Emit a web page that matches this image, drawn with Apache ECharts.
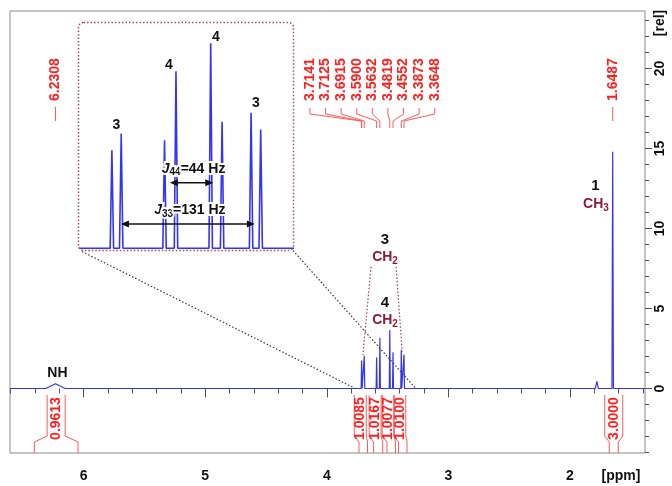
<!DOCTYPE html>
<html>
<head>
<meta charset="utf-8">
<title>1H NMR spectrum</title>
<script src="https://cdn.jsdelivr.net/npm/echarts@6.0.0/dist/echarts.min.js"></script>
<style>
  html, body { margin: 0; padding: 0; background: #ffffff; }
  #chart { width: 672px; height: 486px; }
</style>
</head>
<body>
<div id="chart"></div>
<script>
// ---- axes -----------------------------------------------------------------
const ppmRange = [1.383, 6.605];          // chemical shift window (drawn reversed)
const relRange = [-4.031, 23.594];        // relative intensity window
const ppmMajorTicks = [2, 3, 4, 5, 6];
const relMajorTicks = [0, 5, 10, 15, 20];
const ppmMinorTicks = [];
for (let k = 7; k <= 33; k++) ppmMinorTicks.push(k / 5);
const relMinorTicks = [];
for (let k = -4; k <= 23; k++) relMinorTicks.push(k);

// ---- resolved lines: shift (ppm), height (rel), half width at base (ppm) --
const peakPpm    = [6.2308, 3.7133, 3.6915, 3.5900, 3.5632, 3.4819, 3.4552, 3.3873, 3.3648, 1.7790, 1.6487, 1.4900];
const peakHeight = [0.30,   1.75,   2.05,   1.93,   3.16,   3.66,   2.26,   2.42,   2.12,   0.45,   14.8,   0.10];
const peakWidth  = [0.080,  0.004,  0.004,  0.004,  0.004,  0.004,  0.004,  0.004,  0.004,  0.012,  0.006,  0.005];

// ---- peak picking ---------------------------------------------------------
const pickedShifts = [6.2308, 3.7141, 3.7125, 3.6915, 3.5900, 3.5632, 3.4819, 3.4552, 3.3873, 3.3648, 1.6487];

// ---- integrals ------------------------------------------------------------
const integralFrom  = [6.405, 3.735, 3.615, 3.505, 3.410, 1.677];
const integralTo    = [6.046, 3.665, 3.540, 3.435, 3.340, 1.603];
const integralValue = [0.9613, 1.0085, 1.0167, 1.0077, 1.0100, 3.0000];

// ---- expansion of the CH2 multiplets --------------------------------------
const insetPpm = [3.2915, 3.788];
const insetRel = [-0.03, 4.02];
const couplingNames  = ['44', '33'];
const couplingValues = [44, 131];          // Hz
const couplingFrom   = [3.5775, 3.6923];   // arrow ends (ppm)
const couplingTo     = [3.4760, 3.3784];

// spectrum trace: baseline with one spike per resolved line
function buildTrace() {
  const order = peakPpm.map((_, i) => i).sort((a, b) => peakPpm[b] - peakPpm[a]);
  const pts = [[ppmRange[1], 0]];
  order.forEach(i => {
    pts.push([peakPpm[i] + peakWidth[i], 0]);
    pts.push([peakPpm[i], peakHeight[i]]);
    pts.push([peakPpm[i] - peakWidth[i], 0]);
  });
  pts.push([ppmRange[0], 0]);
  return pts;
}
const trace = buildTrace();

const FONT = '"Liberation Sans", Arial, Helvetica, sans-serif';
const BLUE = '#3434f4';
const RED = '#ff1f1f';
const RED_LINE = '#ff5a5a';
const DARK_RED = '#8e1b38';
const TICK = '#555555';

const chart = echarts.init(document.getElementById('chart'), null, { renderer: 'canvas' });

const labelFont = { fontSize: 14, fontWeight: 'bold', color: '#111', fontFamily: FONT };

chart.setOption({
  animation: false,
  backgroundColor: '#ffffff',
  grid: [
    { left: 10, top: 11, width: 635, height: 442, show: true, borderColor: '#8a8a8a', borderWidth: 1, backgroundColor: 'transparent' },
    { left: 80, top: 23, width: 212, height: 227, show: false }
  ],
  xAxis: [
    { gridIndex: 0, type: 'value', position: 'bottom', inverse: true, min: ppmRange[0], max: ppmRange[1],
      axisLine: { show: false }, splitLine: { show: false }, axisLabel: { show: false },
      axisTick: { show: true, length: 5, customValues: ppmMinorTicks, lineStyle: { color: TICK } } },
    { gridIndex: 0, type: 'value', position: 'bottom', inverse: true, min: ppmRange[0], max: ppmRange[1],
      axisLine: { show: false }, splitLine: { show: false },
      axisTick: { show: true, length: 9, customValues: ppmMajorTicks, lineStyle: { color: TICK } },
      axisLabel: Object.assign({ customValues: ppmMajorTicks, margin: 16 }, labelFont) },
    { gridIndex: 1, type: 'value', inverse: true, min: insetPpm[0], max: insetPpm[1], show: false }
  ],
  yAxis: [
    { gridIndex: 0, type: 'value', position: 'right', min: relRange[0], max: relRange[1],
      axisLine: { show: false }, splitLine: { show: false }, axisLabel: { show: false },
      axisTick: { show: true, length: 4, customValues: relMinorTicks, lineStyle: { color: TICK } } },
    { gridIndex: 0, type: 'value', position: 'right', min: relRange[0], max: relRange[1],
      axisLine: { show: false }, splitLine: { show: false },
      axisTick: { show: true, length: 7, customValues: relMajorTicks, lineStyle: { color: TICK } },
      axisLabel: Object.assign({ customValues: relMajorTicks, margin: 8, rotate: 90 }, labelFont) },
    { gridIndex: 1, type: 'value', min: insetRel[0], max: insetRel[1], show: false }
  ],
  series: [
    { type: 'line', xAxisIndex: 0, yAxisIndex: 0, data: trace, showSymbol: false, symbol: 'none',
      lineStyle: { color: BLUE, width: 1.2 }, silent: true, clip: true },
    { type: 'line', xAxisIndex: 2, yAxisIndex: 2, data: trace, showSymbol: false, symbol: 'none',
      lineStyle: { color: BLUE, width: 1.6 }, silent: true, clip: true }
  ]
});

// ---- annotations, peak labels, integrals ---------------------------------
const P = (x, y) => chart.convertToPixel({ gridIndex: 0 }, [x, y]);
const Q = (x, y) => chart.convertToPixel({ gridIndex: 1 }, [x, y]);
const plotBottom = P(ppmRange[0], relRange[0])[1];

const g = [];
const Z = 20;   // draw annotations above the spectrum trace
const font = (size, style) => (style || 'bold') + ' ' + size + 'px ' + FONT;
const measureCtx = document.createElement('canvas').getContext('2d');
function measure(str, f) { measureCtx.font = f; return measureCtx.measureText(str).width; }

function add(el) { el.silent = true; el.z = Z; g.push(el); }
function line(points, stroke, width, dash) {
  add({ type: 'polyline', shape: { points: points },
    style: { stroke: stroke, lineWidth: width || 1, fill: null, lineDash: dash || null } });
}
function text(x, y, str, size, color) {
  add({ type: 'text', x: x, y: y,
    style: { text: str, font: font(size), fill: color, align: 'center', verticalAlign: 'middle' } });
}
function rotated(x, y, str, size, color, align) {
  add({ type: 'text', x: x, y: y, rotation: Math.PI / 2,
    style: { text: str, font: font(size), fill: color, align: align, verticalAlign: 'middle' } });
}
// runs of text pieces [string, font, dy], centred as a whole on x; y is the centre of the main letters
function pieces(x, y, parts, color, halo) {
  const widths = parts.map(p => measure(p[0], p[1]));
  const total = widths.reduce((s, w) => s + w, 0);
  let cx = x - total / 2;
  parts.forEach((p, i) => {
    const style = { text: p[0], font: p[1], fill: color, align: 'left', verticalAlign: 'middle' };
    if (halo) { style.stroke = '#ffffff'; style.lineWidth = 4; }
    add({ type: 'text', x: cx, y: y + p[2], style: style });
    cx += widths[i];
  });
}
function chem(x, y, base, sub, color) {
  pieces(x, y, [[base, font(14), 0], [sub, font(10), 4]], color);
}

// peak picking labels with their connectors
const LABEL_BASE = 101, LINK_TOP = 108, LINK_MID = 114, LINK_LOW = 121, LINK_END = 128;
const FAN_STEP = 15.6, FAN_SHIFT = -9;
const pickPx = pickedShifts.map(v => P(v, 0)[0]);
const clusters = [];
let cur = [0];
for (let i = 1; i < pickPx.length; i++) {
  if (pickPx[i] - pickPx[i - 1] < FAN_STEP) cur.push(i); else { clusters.push(cur); cur = [i]; }
}
clusters.push(cur);
clusters.forEach(cl => {
  if (cl.length === 1) {
    const x = pickPx[cl[0]];
    line([[x, LINK_TOP - 1], [x, LINK_LOW]], RED_LINE, 1);
    rotated(x, LABEL_BASE, pickedShifts[cl[0]].toFixed(4), 14, RED, 'left');
    return;
  }
  const mean = cl.reduce((s, i) => s + pickPx[i], 0) / cl.length + FAN_SHIFT;
  cl.forEach((i, j) => {
    const lx = mean + (j - (cl.length - 1) / 2) * FAN_STEP;
    line([[lx, LINK_TOP], [lx, LINK_MID], [pickPx[i], LINK_LOW], [pickPx[i], LINK_END]], RED_LINE, 1);
    rotated(lx, LABEL_BASE, pickedShifts[i].toFixed(4), 14, RED, 'left');
  });
});

// integral brackets
const BOX_TOP = 395, BOX_BOTTOM = 436, FOOT_TOP = 442, INT_LABEL_Y = 418.5;
const intCenters = integralFrom.map((f, i) => (P(f, 0)[0] + P(integralTo[i], 0)[0]) / 2);
integralValue.forEach((v, i) => {
  const xa = P(integralFrom[i], 0)[0], xb = P(integralTo[i], 0)[0];
  let gap = Infinity;
  if (i > 0) gap = Math.min(gap, intCenters[i] - intCenters[i - 1]);
  if (i < intCenters.length - 1) gap = Math.min(gap, intCenters[i + 1] - intCenters[i]);
  const crowded = gap < 18;
  const lx = intCenters[i] - (crowded ? 3 : 0);
  const hw = crowded ? 6 : 9;
  line([[lx - hw, BOX_TOP], [lx - hw, BOX_BOTTOM], [xa, FOOT_TOP], [xa, plotBottom]], RED_LINE, 1);
  line([[lx + hw, BOX_TOP], [lx + hw, BOX_BOTTOM], [xb, FOOT_TOP], [xb, plotBottom]], RED_LINE, 1);
  rotated(lx, INT_LABEL_Y, v.toFixed(4), 14, RED, 'center');
});

// group assignments in the full spectrum
let a = P(6.215, 0.97); text(a[0], a[1], 'NH', 14, '#111');
a = P(1.790, 12.64); text(a[0], a[1], '1', 15, '#111');
a = P(1.786, 11.53); chem(a[0], a[1], 'CH', '3', DARK_RED);
a = P(3.521, 9.28);  text(a[0], a[1], '3', 15, '#111');
a = P(3.521, 8.23);  chem(a[0], a[1], 'CH', '2', DARK_RED);
a = P(3.521, 5.33);  text(a[0], a[1], '4', 15, '#111');
a = P(3.521, 4.28);  chem(a[0], a[1], 'CH', '2', DARK_RED);

// dotted guides from the CH2(3) label to its outer lines
line([P(3.636, 7.6), P(3.703, 2.1)], '#a0404e', 1.2, [1.5, 2]);
line([P(3.430, 7.6), P(3.380, 2.3)], '#a0404e', 1.2, [1.5, 2]);

// expansion frame and its leader lines
const fTL = Q(insetPpm[1], insetRel[1]);
const fBR = Q(insetPpm[0], insetRel[0]);
add({ type: 'rect',
  shape: { x: fTL[0] - 1.5, y: fTL[1] - 0.5, width: fBR[0] - fTL[0] + 3, height: fBR[1] - fTL[1] + 1, r: 5 },
  style: { fill: null, stroke: '#a0505e', lineWidth: 1.5, lineDash: [1.5, 2] } });
line([[fTL[0] + 2, fBR[1] + 1.5], P(3.765, 0)], '#3a3a3a', 1.2, [1.5, 2]);
line([[fBR[0] + 1, fBR[1] + 0.5], P(3.268, 0)], '#3a3a3a', 1.2, [1.5, 2]);

// multiplet labels inside the expansion
[[3.7028, 2.20, '3'], [3.5798, 3.27, '4'], [3.4697, 3.77, '4'], [3.3761, 2.59, '3']].forEach(m => {
  const q = Q(m[0], m[1]);
  text(q[0], q[1], m[2], 14, '#111');
});

// coupling arrows
const couplingY = [1.17, 0.435];
couplingNames.forEach((n, i) => {
  const p1 = Q(couplingFrom[i], couplingY[i]);
  const p2 = Q(couplingTo[i], couplingY[i]);
  const y = p1[1], L = 8, H = 3.5;
  pieces((p1[0] + p2[0]) / 2 + 2, y - 14,
    [['J', font(14, 'italic bold'), 0], [n, font(10), 4], ['=' + couplingValues[i] + ' Hz', font(14), 0]], '#111', true);
  line([[p1[0] + L - 1, y], [p2[0] - L + 1, y]], '#111', 1.5);
  add({ type: 'polygon', shape: { points: [[p1[0], y], [p1[0] + L, y - H], [p1[0] + L, y + H]] }, style: { fill: '#111' } });
  add({ type: 'polygon', shape: { points: [[p2[0], y], [p2[0] - L, y - H], [p2[0] - L, y + H]] }, style: { fill: '#111' } });
});

// axis units
text(621, 476, '[ppm]', 14, '#111');
add({ type: 'text', x: 660, y: 23, rotation: Math.PI / 2,
  style: { text: '[rel]', font: font(14), fill: '#111', align: 'center', verticalAlign: 'middle' } });

chart.setOption({ graphic: g });
</script>
</body>
</html>
